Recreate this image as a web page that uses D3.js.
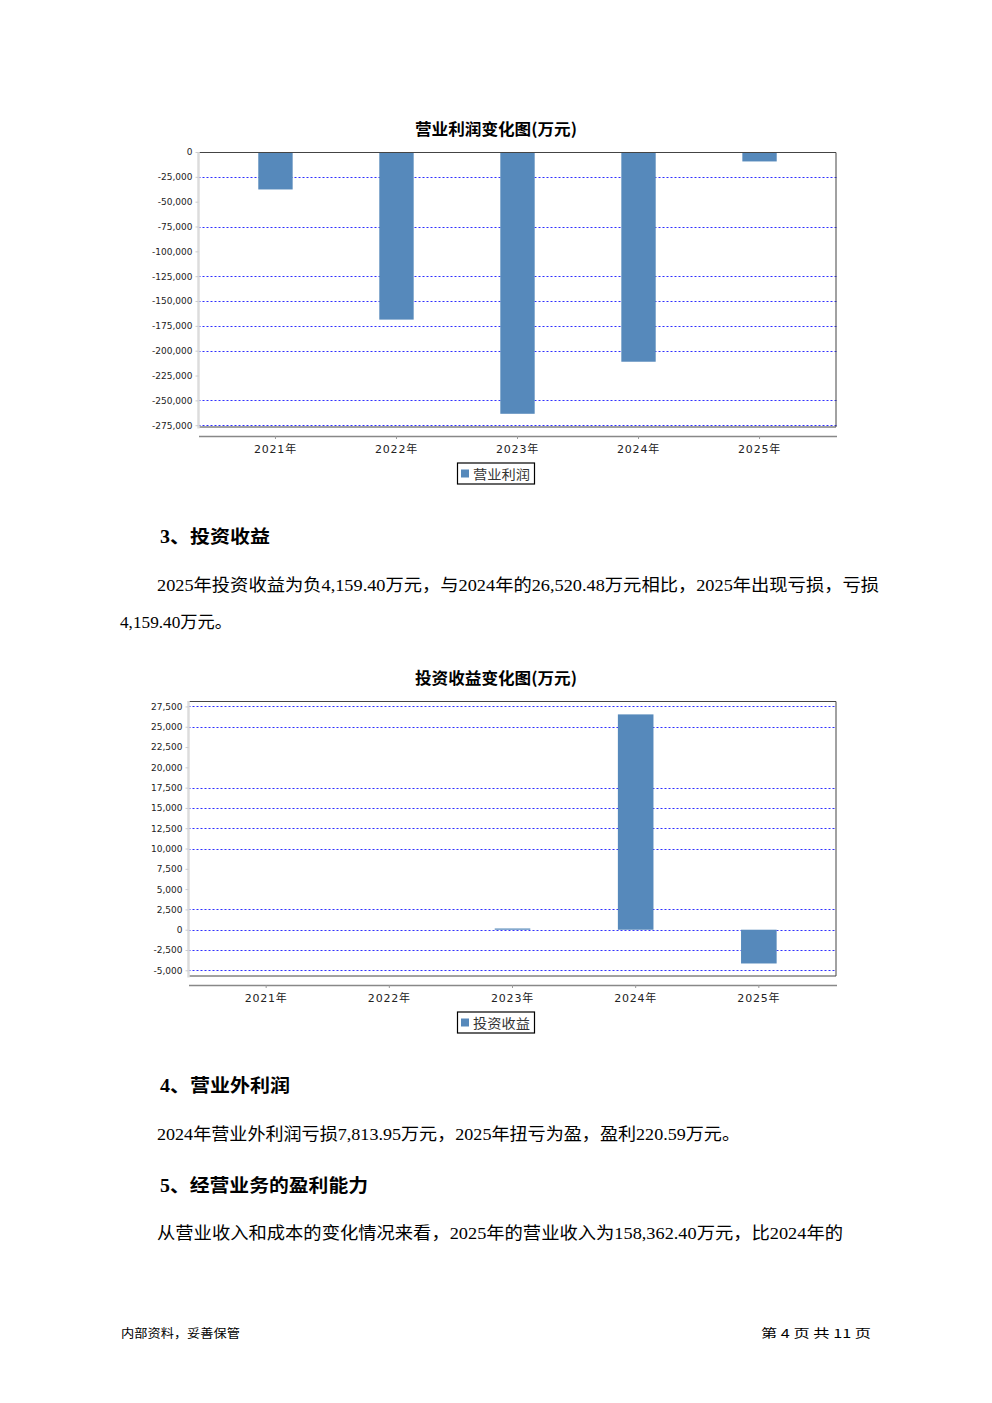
<!DOCTYPE html>
<html><head><meta charset="utf-8">
<script src="https://cdn.jsdelivr.net/npm/d3@7/dist/d3.min.js"></script>
<style>
html,body{margin:0;padding:0;background:#fff;}
svg{display:block;}
</style></head>
<body>
<svg id="page" width="992" height="1403"></svg>
<script>
// ---------- data ----------
const categories = ["2021年", "2022年", "2023年", "2024年", "2025年"];
const profitValues = [-37700, -168700, -263500, -211100, -9500];
const investValues = [0, 0, 150, 26520.48, -4159.40];
const profitTicks = [0, -25000, -50000, -75000, -100000, -125000, -150000, -175000, -200000, -225000, -250000, -275000];
const profitGridTicks = [-25000, -75000, -125000, -150000, -175000, -200000, -250000, -275000];
const investTicks = [27500, 25000, 22500, 20000, 17500, 15000, 12500, 10000, 7500, 5000, 2500, 0, -2500, -5000];
const investGridTicks = [27500, 25000, 17500, 15000, 12500, 10000, 2500, 0, -2500, -5000];

const svg = d3.select("#page");
svg.append("rect").attr("width", 992).attr("height", 1403).attr("fill", "#fff");

const BAR = "#5689bb";
const fmt0 = d3.format(",");
const fmt = d => fmt0(d).replace("\u2212", "-");

function drawChart(o) {
  const g = svg.append("g");
  // title
  g.append("text").attr("x", 415).attr("y", o.titleY)
    .attr("font-family", "'Noto Sans CJK SC', sans-serif")
    .attr("font-weight", "bold").attr("font-size", 16).attr("fill", "#000")
    .attr("textLength", 162).attr("lengthAdjust", "spacingAndGlyphs")
    .text(o.title);

  const x = d3.scaleBand().domain(categories)
    .range([o.left, o.right]).paddingInner(o.pi).paddingOuter(o.po);
  const y = d3.scaleLinear().domain(o.domain).range([o.bottom, o.top]);

  // gridlines
  g.append("g").selectAll("line").data(o.grid).join("line")
    .attr("x1", o.left).attr("x2", o.right)
    .attr("y1", d => Math.round(y(d)) + 0.5).attr("y2", d => Math.round(y(d)) + 0.5)
    .attr("stroke", "#2f2fff").attr("stroke-width", 1)
    .attr("stroke-dasharray", "2,2");

  // bars
  g.append("g").selectAll("rect").data(o.values.map((v, i) => ({c: categories[i], v})))
    .join("rect")
    .attr("x", d => x(d.c)).attr("width", x.bandwidth())
    .attr("y", d => Math.min(y(d.v), y(0)))
    .attr("height", d => Math.abs(y(d.v) - y(0)))
    .attr("fill", BAR);

  // plot outline (top, right, bottom)
  g.append("path")
    .attr("d", `M${o.left},${o.top + 0.5}H${o.right - 0.5}V${o.bottom - 0.5}H${o.left}`)
    .attr("fill", "none").attr("stroke", "#444").attr("stroke-width", 1);

  // y axis
  const ya = d3.axisLeft(y).tickValues(o.ticks).tickFormat(fmt).tickSize(3).tickPadding(3);
  const yg = g.append("g").attr("transform", `translate(${o.left},0)`).call(ya);
  yg.select(".domain").attr("stroke", "#dcdcdc").attr("stroke-width", 2.5)
    .attr("d", `M0,${o.top}V${o.bottom + 1}`);
  yg.selectAll(".tick line").attr("stroke", "#ccc");
  yg.selectAll(".tick text").attr("font-family", "'DejaVu Sans', sans-serif")
    .attr("font-size", 9).attr("fill", "#222");

  // x axis
  const xa = d3.axisBottom(x).tickSize(3).tickPadding(6).tickSizeOuter(0);
  const xg = g.append("g").attr("transform", `translate(0,${o.axisY})`).call(xa);
  xg.select(".domain").attr("stroke", "#888").attr("stroke-width", 1.5);
  xg.selectAll(".tick line").attr("stroke", "#999");
  xg.selectAll(".tick text").attr("font-family", "'DejaVu Sans', 'Noto Sans CJK SC', sans-serif")
    .attr("font-size", 11).attr("fill", "#222").attr("letter-spacing", 0.8);

  // legend
  const lg = g.append("g").attr("transform", `translate(457,${o.legendY})`);
  lg.append("rect").attr("x", 0.5).attr("y", 0.5).attr("width", 77).attr("height", 21)
    .attr("fill", "#fff").attr("stroke", "#000").attr("stroke-width", 1.2);
  lg.append("rect").attr("x", 4).attr("y", 7).attr("width", 8).attr("height", 8).attr("fill", BAR);
  lg.append("text").attr("x", 16).attr("y", 16)
    .attr("font-family", "'Noto Sans CJK SC', sans-serif").attr("font-size", 13)
    .attr("fill", "#333").attr("textLength", 57).attr("lengthAdjust", "spacingAndGlyphs")
    .text(o.legend);
}

drawChart({
  title: "营业利润变化图(万元)", titleY: 135,
  left: 198.5, right: 836.5, top: 152, bottom: 427.5, axisY: 436,
  pi: 0.716, po: 0.494,
  domain: [-277300, 0], values: profitValues, ticks: profitTicks, grid: profitGridTicks,
  legend: "营业利润", legendY: 462.5
});
drawChart({
  title: "投资收益变化图(万元)", titleY: 684,
  left: 188.5, right: 836.5, top: 701, bottom: 976.5, axisY: 985,
  pi: 0.711, po: 0.486,
  domain: [-5763, 28170], values: investValues, ticks: investTicks, grid: investGridTicks,
  legend: "投资收益", legendY: 1011.5
});

// ---------- body text ----------
const SERIF = "'Liberation Serif', 'Noto Sans CJK SC', serif";
function txt(s, x, y, opts) {
  const t = svg.append("text").attr("x", x).attr("y", y)
    .attr("font-family", opts.family || SERIF)
    .attr("font-size", opts.size || 17).attr("fill", "#000")
    .attr("font-weight", opts.bold ? "bold" : "normal").text(s);
  if (opts.width) t.attr("textLength", opts.width).attr("lengthAdjust", "spacingAndGlyphs");
  return t;
}
txt("3、投资收益", 160, 543, {size: 18, bold: true, width: 110});
txt("2025年投资收益为负4,159.40万元，与2024年的26,520.48万元相比，2025年出现亏损，亏损", 157, 591, {size: 17, width: 722});
txt("4,159.40万元。", 120, 628, {size: 17, width: 112});
txt("4、营业外利润", 160, 1092, {size: 18, bold: true, width: 130});
txt("2024年营业外利润亏损7,813.95万元，2025年扭亏为盈，盈利220.59万元。", 157, 1140, {size: 17, width: 583});
txt("5、经营业务的盈利能力", 160, 1192, {size: 18, bold: true, width: 208});
txt("从营业收入和成本的变化情况来看，2025年的营业收入为158,362.40万元，比2024年的", 157, 1239, {size: 17, width: 686});

// footer
txt("内部资料，妥善保管", 121, 1338, {size: 12, width: 119, family: "'Noto Sans CJK SC', sans-serif"});
txt("第 4 页  共 11 页", 761, 1338, {size: 12, width: 110, family: "'Noto Sans CJK SC', sans-serif"});
</script>
</body></html>
